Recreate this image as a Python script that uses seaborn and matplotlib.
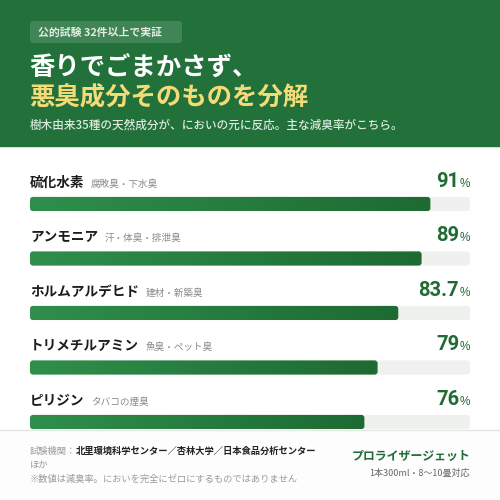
import matplotlib
matplotlib.use("Agg")
import matplotlib.pyplot as plt
from matplotlib.patches import FancyBboxPatch, Rectangle
from matplotlib.colors import LinearSegmentedColormap
import numpy as np
import pandas as pd
import seaborn as sns

# データ
compounds = ["硫化水素", "アンモニア", "ホルムアルデヒド", "トリメチルアミン", "ピリジン"]
odor_types = ["腐敗臭・下水臭", "汗・体臭・排泄臭", "建材・新築臭", "魚臭・ペット臭", "タバコの煙臭"]
reduction = [91, 89, 83.7, 79, 76]
value_labels = ["91", "89", "83.7", "79", "76"]

GREEN = "#22703a"
DARK_GREEN = "#1f6b34"
TRACK = "#eef1ee"
YELLOW = "#f3dc78"

sns.set_theme(style="white")
plt.rcParams["font.family"] = ["Noto Sans CJK JP", "DejaVu Sans"]

fig = plt.figure(figsize=(5, 5), dpi=100)
fig.patch.set_facecolor("white")

# 背景（ピクセル座標）
bg = fig.add_axes([0, 0, 1, 1])
bg.set_xlim(0, 500)
bg.set_ylim(500, 0)
bg.axis("off")

bg.add_patch(Rectangle((0, 0), 500, 146, color=GREEN, zorder=0))
bg.add_patch(Rectangle((0, 430), 500, 70, color="#fdfdfd", zorder=0))
bg.plot([0, 500], [430, 430], color="#e4e6e4", lw=1, zorder=1)

bg.add_patch(FancyBboxPatch((30, 21), 152, 22, boxstyle="round,pad=0,rounding_size=3",
                            facecolor="white", alpha=0.14, edgecolor="none", zorder=1))
bg.text(38, 32.5, "公的試験 32件以上で実証", fontsize=7.8, color="#e3eee5",
        weight="bold", va="center", ha="left", zorder=2)

bg.text(29, 67, "香りでごまかさず、", fontsize=18.3, color="white", weight="bold",
        va="center", ha="left")
bg.text(29, 97, "悪臭成分そのものを分解", fontsize=18.3, color=YELLOW, weight="bold",
        va="center", ha="left")
bg.text(30, 125, "樹木由来35種の天然成分が、においの元に反応。主な減臭率がこちら。",
        fontsize=8.4, color="#dbe9de", weight="medium", va="center", ha="left")

# フッター
lab = bg.text(30, 454, "試験機関：", fontsize=6.7, color="#9a9a9a", va="baseline", ha="left")
bg.annotate("北里環境科学センター／杏林大学／日本食品分析センター", xy=(1, 454),
            xycoords=(lab, "data"), fontsize=6.7, color="#222222", weight="bold",
            va="baseline", ha="left")
bg.text(30, 468, "ほか", fontsize=6.7, color="#9a9a9a", va="baseline", ha="left")
bg.text(30, 482, "※数値は減臭率。においを完全にゼロにするものではありません",
        fontsize=6.7, color="#9a9a9a", va="baseline", ha="left")
bg.text(470, 456, "プロライザージェット", fontsize=8.6, color=DARK_GREEN, weight="bold",
        va="center", ha="right")
bg.text(470, 473, "1本300ml・8〜10畳対応", fontsize=6.5, color="#666666",
        va="center", ha="right")

# バー
ax = fig.add_axes([0.06, 1 - 449.25 / 500, 0.88, 272.5 / 500])
ax.patch.set_alpha(0)
df = pd.DataFrame({"compound": compounds, "reduction": reduction, "full": [100] * len(compounds)})
bar_w = 0.26
sns.barplot(data=df, x="full", y="compound", color=TRACK, width=bar_w, ax=ax)
n_track = len(ax.patches)
sns.barplot(data=df, x="reduction", y="compound", color=GREEN, width=bar_w, ax=ax)

cmap = LinearSegmentedColormap.from_list("bar", ["#2f8f4b", "#1e6a33"])
grad = np.linspace(0, 1, 256).reshape(1, -1)
aspect = (1 / 54.5) / (1 / 4.4)
for k, p in enumerate(list(ax.patches)):
    x0, y0, w, h = p.get_x(), p.get_y(), p.get_width(), p.get_height()
    p.set_visible(False)
    rp = FancyBboxPatch((x0, y0), w, h, boxstyle="round,pad=0,rounding_size=0.68",
                        mutation_aspect=aspect, facecolor=TRACK, edgecolor="none", zorder=2)
    ax.add_patch(rp)
    if k >= n_track:
        im = ax.imshow(grad, extent=[x0, x0 + w, y0 + h, y0], aspect="auto", cmap=cmap,
                       zorder=3, interpolation="bilinear")
        im.set_clip_path(rp)

ax.set_xlim(0, 100)
ax.set_ylim(4.5, -0.5)
ax.set_axis_off()

for i, (name, sub, lbl) in enumerate(zip(compounds, odor_types, value_labels)):
    yb = i - 0.32
    t = ax.text(0, yb, name, fontsize=9.8, weight="bold", color="#1c1c1c",
                va="baseline", ha="left")
    ax.annotate(sub, xy=(1, yb), xycoords=(t, "data"), xytext=(4.5, 0),
                textcoords="offset points", fontsize=6.9, color="#8a8a8a",
                va="baseline", ha="left")
    pct = ax.text(100, yb, "%", fontsize=8.5, color=DARK_GREEN, va="baseline", ha="right",
                  family=["Liberation Sans", "DejaVu Sans"])
    ax.annotate(lbl, xy=(0, yb), xycoords=(pct, "data"), xytext=(-0.3, 0),
                textcoords="offset points", fontsize=14.5, color=DARK_GREEN,
                weight="bold", family=["Roboto", "DejaVu Sans"],
                va="baseline", ha="right")

fig.savefig("out.png", dpi=100)
